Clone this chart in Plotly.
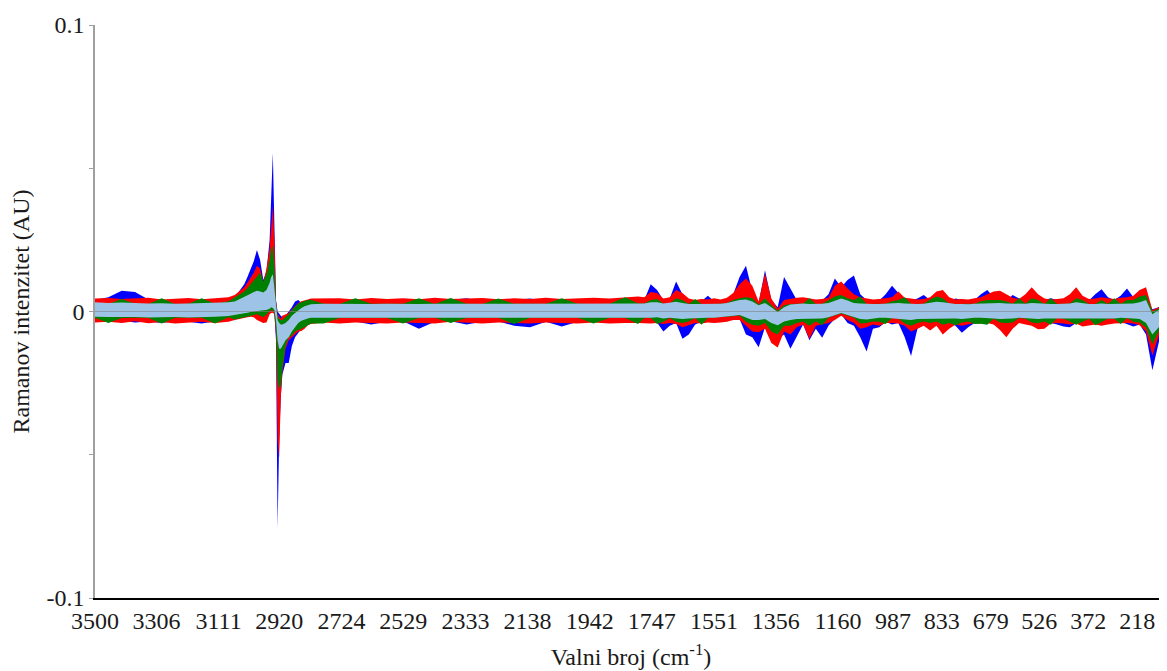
import plotly.graph_objects as go

# Wavenumber grid (cm-1)
wavenumber = [
    3500, 3458, 3416, 3374, 3332, 3290, 3248, 3206, 3164, 3122, 3080,
    3060, 3050, 3040, 3030, 3020, 3010, 3000, 2990, 2980, 2970, 2960, 2950, 2945, 2940, 2935,
    2930, 2925, 2920, 2915, 2910, 2900, 2890, 2880, 2870, 2860, 2850, 2840, 2830, 2820,
    2780, 2730, 2680, 2630, 2580, 2530, 2480, 2430, 2380, 2330, 2280, 2230, 2180, 2130, 2080,
    2030, 1980, 1930, 1880, 1830, 1790,
    1770, 1750, 1730, 1710, 1690, 1670, 1650, 1630, 1610, 1590,
    1570, 1550, 1530, 1510, 1490, 1470, 1450, 1430, 1410, 1390,
    1370, 1350, 1330, 1310, 1290, 1270, 1250, 1230, 1210, 1190,
    1170, 1150, 1130, 1110, 1090, 1070, 1050, 1030, 1010, 990,
    970, 950, 930, 910, 890, 870, 850, 830, 810, 790,
    770, 750, 730, 710, 690, 670, 650, 630, 610, 590,
    570, 550, 530, 510, 490, 470, 450, 430, 410, 390,
    370, 350, 330, 310, 290, 270, 250, 230, 210, 190,
    170, 150, 130, 120,
]

# Upper / lower envelopes of each spectrum band (AU)
blue_hi = [
    0.0040, 0.0050, 0.0072, 0.0068, 0.0042, 0.0036, 0.0038, 0.0035, 0.0040, 0.0037, 0.0042,
    0.0055, 0.0065, 0.0080, 0.0095, 0.0120, 0.0150, 0.0175, 0.0215, 0.0180, 0.0110, 0.0140, 0.0250, 0.0400, 0.0553, 0.0300,
    0.0040, 0.0000, -0.0010, -0.0015, -0.0020, -0.0015, 0.0000, 0.0015, 0.0035, 0.0040, 0.0030, 0.0032, 0.0036, 0.0038,
    0.0040, 0.0036, 0.0038, 0.0040, 0.0035, 0.0040, 0.0038, 0.0036, 0.0040, 0.0046, 0.0036, 0.0038, 0.0040, 0.0045, 0.0036,
    0.0038, 0.0040, 0.0036, 0.0040, 0.0038, 0.0040,
    0.0040, 0.0095, 0.0075, 0.0040, 0.0045, 0.0105, 0.0060, 0.0036, 0.0038, 0.0036,
    0.0055, 0.0036, 0.0036, 0.0040, 0.0060, 0.0120, 0.0160, 0.0070, 0.0030, 0.0144,
    0.0040, 0.0015, 0.0120, 0.0080, 0.0040, 0.0045, 0.0040, 0.0036, 0.0038, 0.0060,
    0.0115, 0.0085, 0.0110, 0.0126, 0.0060, 0.0040, 0.0036, 0.0038, 0.0060, 0.0090,
    0.0065, 0.0040, 0.0038, 0.0045, 0.0058, 0.0040, 0.0042, 0.0040, 0.0036, 0.0045,
    0.0040, 0.0036, 0.0040, 0.0060, 0.0075, 0.0050, 0.0040, 0.0038, 0.0058, 0.0045,
    0.0042, 0.0045, 0.0052, 0.0040, 0.0046, 0.0040, 0.0038, 0.0040, 0.0042, 0.0040,
    0.0038, 0.0060, 0.0078, 0.0050, 0.0040, 0.0055, 0.0080, 0.0050, 0.0045, 0.0050,
    0.0008, 0.0015, 0.0025, 0.0028,
]
blue_lo = [
    -0.0030, -0.0034, -0.0032, -0.0038, -0.0035, -0.0040, -0.0033, -0.0036, -0.0042, -0.0034, -0.0030,
    -0.0025, -0.0024, -0.0020, -0.0018, -0.0016, -0.0014, -0.0012, -0.0010, -0.0012, -0.0010, -0.0008, -0.0005, 0.0000, 0.0000, -0.0010,
    -0.0100, -0.0756, -0.0450, -0.0300, -0.0220, -0.0180, -0.0180, -0.0120, -0.0090, -0.0075, -0.0060, -0.0050, -0.0045, -0.0040,
    -0.0034, -0.0036, -0.0035, -0.0045, -0.0036, -0.0034, -0.0060, -0.0036, -0.0034, -0.0045, -0.0036, -0.0034, -0.0050, -0.0055, -0.0036,
    -0.0052, -0.0036, -0.0034, -0.0038, -0.0036, -0.0034,
    -0.0034, -0.0036, -0.0038, -0.0070, -0.0050, -0.0040, -0.0095, -0.0080, -0.0045, -0.0036,
    -0.0035, -0.0034, -0.0032, -0.0030, -0.0028, -0.0026, -0.0080, -0.0090, -0.0125, -0.0055,
    -0.0085, -0.0095, -0.0080, -0.0130, -0.0090, -0.0045, -0.0100, -0.0060, -0.0092, -0.0050,
    -0.0025, -0.0010, -0.0040, -0.0050, -0.0090, -0.0140, -0.0060, -0.0055, -0.0036, -0.0045,
    -0.0040, -0.0090, -0.0155, -0.0060, -0.0045, -0.0040, -0.0036, -0.0045, -0.0040, -0.0050,
    -0.0074, -0.0055, -0.0040, -0.0036, -0.0038, -0.0036, -0.0040, -0.0040, -0.0040, -0.0036,
    -0.0040, -0.0038, -0.0040, -0.0038, -0.0040, -0.0045, -0.0052, -0.0055, -0.0040, -0.0038,
    -0.0036, -0.0036, -0.0038, -0.0040, -0.0036, -0.0036, -0.0045, -0.0052, -0.0045, -0.0080,
    -0.0205, -0.0108, -0.0052, -0.0048,
]
red_hi = [
    0.0045, 0.0047, 0.0044, 0.0046, 0.0048, 0.0042, 0.0045, 0.0047, 0.0043, 0.0046, 0.0050,
    0.0058, 0.0066, 0.0075, 0.0085, 0.0100, 0.0118, 0.0135, 0.0160, 0.0150, 0.0100, 0.0150, 0.0220, 0.0310, 0.0370, 0.0250,
    0.0035, -0.0010, -0.0020, -0.0025, -0.0015, -0.0010, -0.0005, 0.0008, 0.0020, 0.0030, 0.0036, 0.0040, 0.0042, 0.0045,
    0.0045, 0.0046, 0.0042, 0.0047, 0.0044, 0.0046, 0.0043, 0.0048, 0.0044, 0.0045, 0.0047, 0.0043, 0.0046, 0.0044, 0.0048,
    0.0044, 0.0046, 0.0048, 0.0045, 0.0048, 0.0052,
    0.0050, 0.0068, 0.0065, 0.0045, 0.0050, 0.0075, 0.0065, 0.0045, 0.0040, 0.0044,
    0.0042, 0.0046, 0.0042, 0.0048, 0.0065, 0.0095, 0.0115, 0.0090, 0.0035, 0.0133,
    0.0045, 0.0010, 0.0040, 0.0045, 0.0048, 0.0050, 0.0045, 0.0042, 0.0044, 0.0048,
    0.0090, 0.0105, 0.0080, 0.0060, 0.0050, 0.0045, 0.0042, 0.0044, 0.0046, 0.0050,
    0.0070, 0.0048, 0.0045, 0.0042, 0.0044, 0.0050, 0.0070, 0.0075, 0.0050, 0.0042,
    0.0044, 0.0042, 0.0046, 0.0050, 0.0060, 0.0070, 0.0072, 0.0060, 0.0048, 0.0044,
    0.0060, 0.0085, 0.0060, 0.0045, 0.0042, 0.0044, 0.0046, 0.0060, 0.0085, 0.0055,
    0.0044, 0.0045, 0.0050, 0.0046, 0.0044, 0.0048, 0.0050, 0.0055, 0.0075, 0.0085,
    0.0005, 0.0015, 0.0030, 0.0032,
]
red_lo = [
    -0.0038, -0.0036, -0.0040, -0.0034, -0.0041, -0.0037, -0.0042, -0.0040, -0.0036, -0.0040, -0.0036,
    -0.0030, -0.0028, -0.0025, -0.0022, -0.0020, -0.0018, -0.0020, -0.0030, -0.0035, -0.0040, -0.0038, -0.0010, -0.0005, -0.0004, -0.0010,
    -0.0080, -0.0450, -0.0510, -0.0300, -0.0210, -0.0130, -0.0100, -0.0090, -0.0080, -0.0070, -0.0068, -0.0060, -0.0048, -0.0044,
    -0.0038, -0.0042, -0.0038, -0.0040, -0.0042, -0.0038, -0.0040, -0.0042, -0.0036, -0.0040, -0.0042, -0.0038, -0.0040, -0.0042, -0.0038,
    -0.0040, -0.0042, -0.0038, -0.0042, -0.0040, -0.0040,
    -0.0040, -0.0042, -0.0040, -0.0044, -0.0040, -0.0044, -0.0055, -0.0048, -0.0040, -0.0042,
    -0.0038, -0.0040, -0.0038, -0.0036, -0.0030, -0.0030, -0.0050, -0.0070, -0.0072, -0.0060,
    -0.0110, -0.0126, -0.0070, -0.0080, -0.0055, -0.0045, -0.0095, -0.0050, -0.0045, -0.0040,
    -0.0030, -0.0015, -0.0030, -0.0040, -0.0060, -0.0055, -0.0045, -0.0050, -0.0040, -0.0040,
    -0.0042, -0.0050, -0.0070, -0.0060, -0.0050, -0.0066, -0.0050, -0.0080, -0.0060, -0.0045,
    -0.0050, -0.0045, -0.0040, -0.0042, -0.0040, -0.0045, -0.0065, -0.0090, -0.0060, -0.0040,
    -0.0045, -0.0050, -0.0062, -0.0060, -0.0042, -0.0040, -0.0042, -0.0045, -0.0042, -0.0052,
    -0.0048, -0.0045, -0.0050, -0.0045, -0.0042, -0.0040, -0.0040, -0.0042, -0.0048, -0.0070,
    -0.0154, -0.0085, -0.0050, -0.0045,
]
green_hi = [
    0.0027, 0.0026, 0.0044, 0.0027, 0.0026, 0.0046, 0.0026, 0.0027, 0.0046, 0.0027, 0.0036,
    0.0050, 0.0056, 0.0062, 0.0070, 0.0082, 0.0095, 0.0110, 0.0125, 0.0135, 0.0105, 0.0130, 0.0180, 0.0220, 0.0230, 0.0150,
    0.0030, -0.0015, -0.0025, -0.0030, -0.0030, -0.0020, -0.0010, 0.0005, 0.0015, 0.0028, 0.0032, 0.0036, 0.0040, 0.0041,
    0.0027, 0.0026, 0.0046, 0.0027, 0.0026, 0.0027, 0.0046, 0.0026, 0.0047, 0.0027, 0.0026, 0.0045, 0.0027, 0.0026, 0.0027,
    0.0046, 0.0027, 0.0026, 0.0027, 0.0050, 0.0028,
    0.0028, 0.0040, 0.0044, 0.0027, 0.0028, 0.0046, 0.0040, 0.0026, 0.0044, 0.0026,
    0.0026, 0.0026, 0.0027, 0.0030, 0.0040, 0.0046, 0.0050, 0.0046, 0.0024, 0.0046,
    0.0022, 0.0003, 0.0022, 0.0026, 0.0027, 0.0028, 0.0046, 0.0026, 0.0027, 0.0040,
    0.0052, 0.0058, 0.0046, 0.0040, 0.0052, 0.0026, 0.0026, 0.0026, 0.0027, 0.0036,
    0.0040, 0.0050, 0.0026, 0.0026, 0.0027, 0.0042, 0.0052, 0.0046, 0.0028, 0.0026,
    0.0026, 0.0025, 0.0027, 0.0036, 0.0040, 0.0040, 0.0040, 0.0036, 0.0027, 0.0046,
    0.0027, 0.0046, 0.0040, 0.0026, 0.0046, 0.0026, 0.0026, 0.0028, 0.0046, 0.0040,
    0.0026, 0.0026, 0.0040, 0.0026, 0.0046, 0.0027, 0.0040, 0.0040, 0.0052, 0.0058,
    0.0000, 0.0010, 0.0024, 0.0026,
]
green_lo = [
    -0.0022, -0.0040, -0.0023, -0.0022, -0.0023, -0.0042, -0.0022, -0.0023, -0.0022, -0.0042, -0.0020,
    -0.0028, -0.0026, -0.0022, -0.0020, -0.0018, -0.0016, -0.0012, -0.0010, -0.0015, -0.0020, -0.0012, 0.0000, 0.0005, 0.0004, -0.0005,
    -0.0060, -0.0240, -0.0270, -0.0260, -0.0200, -0.0120, -0.0090, -0.0085, -0.0070, -0.0065, -0.0060, -0.0055, -0.0050, -0.0042,
    -0.0042, -0.0023, -0.0023, -0.0022, -0.0023, -0.0042, -0.0023, -0.0022, -0.0040, -0.0023, -0.0023, -0.0022, -0.0044, -0.0023, -0.0023,
    -0.0023, -0.0022, -0.0042, -0.0023, -0.0023, -0.0044,
    -0.0023, -0.0023, -0.0044, -0.0036, -0.0023, -0.0036, -0.0040, -0.0035, -0.0023, -0.0046,
    -0.0023, -0.0023, -0.0021, -0.0019, -0.0017, -0.0014, -0.0036, -0.0046, -0.0050, -0.0040,
    -0.0070, -0.0080, -0.0050, -0.0050, -0.0040, -0.0035, -0.0050, -0.0035, -0.0048, -0.0022,
    -0.0014, -0.0007, -0.0014, -0.0022, -0.0042, -0.0040, -0.0035, -0.0036, -0.0044, -0.0023,
    -0.0025, -0.0042, -0.0050, -0.0040, -0.0035, -0.0040, -0.0035, -0.0046, -0.0040, -0.0048,
    -0.0038, -0.0035, -0.0044, -0.0043, -0.0046, -0.0025, -0.0038, -0.0040, -0.0038, -0.0023,
    -0.0025, -0.0038, -0.0041, -0.0035, -0.0046, -0.0023, -0.0025, -0.0035, -0.0046, -0.0036,
    -0.0025, -0.0048, -0.0036, -0.0025, -0.0025, -0.0044, -0.0023, -0.0036, -0.0038, -0.0056,
    -0.0115, -0.0068, -0.0042, -0.0040,
]
lightblue_hi = [
    0.0032, 0.0030, 0.0031, 0.0029, 0.0028, 0.0029, 0.0027, 0.0028, 0.0029, 0.0030, 0.0032,
    0.0035, 0.0040, 0.0045, 0.0050, 0.0055, 0.0062, 0.0068, 0.0072, 0.0070, 0.0066, 0.0075, 0.0100, 0.0120, 0.0130, 0.0080,
    0.0010, -0.0030, -0.0040, -0.0045, -0.0045, -0.0040, -0.0030, -0.0015, -0.0005, 0.0005, 0.0012, 0.0018, 0.0022, 0.0025,
    0.0027, 0.0026, 0.0027, 0.0026, 0.0027, 0.0026, 0.0026, 0.0027, 0.0027, 0.0026, 0.0027, 0.0026, 0.0027, 0.0026, 0.0027,
    0.0026, 0.0027, 0.0027, 0.0026, 0.0027, 0.0028,
    0.0028, 0.0032, 0.0032, 0.0028, 0.0030, 0.0034, 0.0030, 0.0026, 0.0026, 0.0026,
    0.0026, 0.0026, 0.0027, 0.0030, 0.0035, 0.0040, 0.0042, 0.0035, 0.0022, 0.0030,
    0.0015, -0.0002, 0.0015, 0.0024, 0.0026, 0.0028, 0.0026, 0.0026, 0.0027, 0.0030,
    0.0038, 0.0045, 0.0038, 0.0030, 0.0028, 0.0026, 0.0026, 0.0026, 0.0027, 0.0028,
    0.0030, 0.0028, 0.0026, 0.0026, 0.0027, 0.0030, 0.0034, 0.0032, 0.0028, 0.0026,
    0.0026, 0.0025, 0.0027, 0.0028, 0.0030, 0.0030, 0.0030, 0.0028, 0.0027, 0.0026,
    0.0027, 0.0030, 0.0028, 0.0026, 0.0026, 0.0026, 0.0026, 0.0028, 0.0032, 0.0028,
    0.0026, 0.0026, 0.0028, 0.0026, 0.0026, 0.0027, 0.0028, 0.0028, 0.0032, 0.0040,
    -0.0010, 0.0005, 0.0015, 0.0018,
]
lightblue_lo = [
    -0.0018, -0.0019, -0.0020, -0.0019, -0.0021, -0.0020, -0.0019, -0.0021, -0.0020, -0.0018, -0.0016,
    -0.0012, -0.0010, -0.0008, -0.0006, -0.0004, -0.0002, 0.0000, 0.0002, 0.0003, 0.0004, 0.0005, 0.0010, 0.0015, 0.0012, 0.0005,
    -0.0030, -0.0100, -0.0130, -0.0130, -0.0120, -0.0100, -0.0090, -0.0070, -0.0055, -0.0040, -0.0032, -0.0028, -0.0024, -0.0022,
    -0.0021, -0.0022, -0.0022, -0.0021, -0.0022, -0.0022, -0.0022, -0.0021, -0.0022, -0.0022, -0.0022, -0.0021, -0.0022, -0.0022, -0.0022,
    -0.0022, -0.0021, -0.0022, -0.0022, -0.0022, -0.0022,
    -0.0022, -0.0022, -0.0020, -0.0024, -0.0022, -0.0024, -0.0026, -0.0024, -0.0022, -0.0022,
    -0.0022, -0.0022, -0.0020, -0.0018, -0.0015, -0.0012, -0.0020, -0.0030, -0.0030, -0.0026,
    -0.0040, -0.0048, -0.0035, -0.0030, -0.0026, -0.0024, -0.0026, -0.0024, -0.0024, -0.0020,
    -0.0012, -0.0005, -0.0012, -0.0020, -0.0026, -0.0028, -0.0024, -0.0022, -0.0022, -0.0022,
    -0.0024, -0.0028, -0.0030, -0.0026, -0.0024, -0.0026, -0.0024, -0.0026, -0.0024, -0.0024,
    -0.0026, -0.0024, -0.0022, -0.0022, -0.0022, -0.0024, -0.0026, -0.0026, -0.0024, -0.0022,
    -0.0024, -0.0024, -0.0026, -0.0024, -0.0022, -0.0022, -0.0024, -0.0024, -0.0022, -0.0024,
    -0.0024, -0.0022, -0.0022, -0.0024, -0.0024, -0.0022, -0.0022, -0.0024, -0.0026, -0.0040,
    -0.0080, -0.0055, -0.0032, -0.0030,
]

tick_values = [3500, 3306, 3111, 2920, 2724, 2529, 2333, 2138, 1942, 1747,
               1551, 1356, 1160, 987, 833, 679, 526, 372, 218]
tick_labels = [str(v) for v in tick_values]

series = [
    ("blue", blue_hi, blue_lo, "#0000FF"),
    ("red", red_hi, red_lo, "#FF0000"),
    ("green", green_hi, green_lo, "#008000"),
    ("lightblue", lightblue_hi, lightblue_lo, "#9DC3E6"),
]

for name, hi, lo, col in series:
    assert len(hi) == len(wavenumber) and len(lo) == len(wavenumber), name

fig = go.Figure()
for name, hi, lo, col in series:
    fig.add_trace(go.Scatter(
        x=wavenumber + wavenumber[::-1],
        y=hi + lo[::-1],
        mode="lines",
        fill="toself",
        fillcolor=col,
        line=dict(color=col, width=0),
        name=name,
        hoverinfo="skip",
        showlegend=False,
    ))

# zero line drawn over the bands
fig.add_shape(type="line", xref="paper", x0=0, x1=1, yref="y", y0=0, y1=0,
              line=dict(color="rgba(130,130,130,0.6)", width=1), layer="above")

font_family = "Liberation Serif, Times New Roman, serif"
text_col = "#1a1a1a"
# the page body adds an 8 px offset, so the figure is sized to fill the rest of the window
fig.update_layout(
    width=1159, height=663,
    margin=dict(l=87, r=0, t=17, b=73),
    paper_bgcolor="white", plot_bgcolor="white",
    font=dict(family=font_family, size=24, color=text_col),
    xaxis=dict(
        range=[3500, 124], automargin=False,
        tickmode="array", tickvals=tick_values, ticktext=tick_labels,
        tickangle=0, ticks="", showgrid=False, zeroline=False,
        showline=True, linecolor="black", linewidth=2,
        tickfont=dict(family=font_family, size=24, color=text_col),
        title=dict(text="Valni broj (cm<sup>-1</sup>)",
                   font=dict(family=font_family, size=24, color=text_col)),
    ),
    yaxis=dict(
        range=[-0.1, 0.1], automargin=False,
        tickmode="array", tickvals=[-0.1, 0, 0.1],
        ticktext=["-0.1", "0", "0.1"],
        ticks="outside", ticklen=4, tickcolor="#A0A0A0", tickwidth=1,
        minor=dict(tickvals=[-0.05, 0.05], ticks="outside", ticklen=4,
                   tickcolor="#A0A0A0", tickwidth=1, showgrid=False),
        showgrid=False, zeroline=False,
        showline=True, linecolor="#A0A0A0", linewidth=1.5,
        tickfont=dict(family=font_family, size=24, color=text_col),
        title=dict(text="Ramanov intenzitet (AU)",
                   font=dict(family=font_family, size=24, color=text_col)),
    ),
)

fig.write_html("out.html")
